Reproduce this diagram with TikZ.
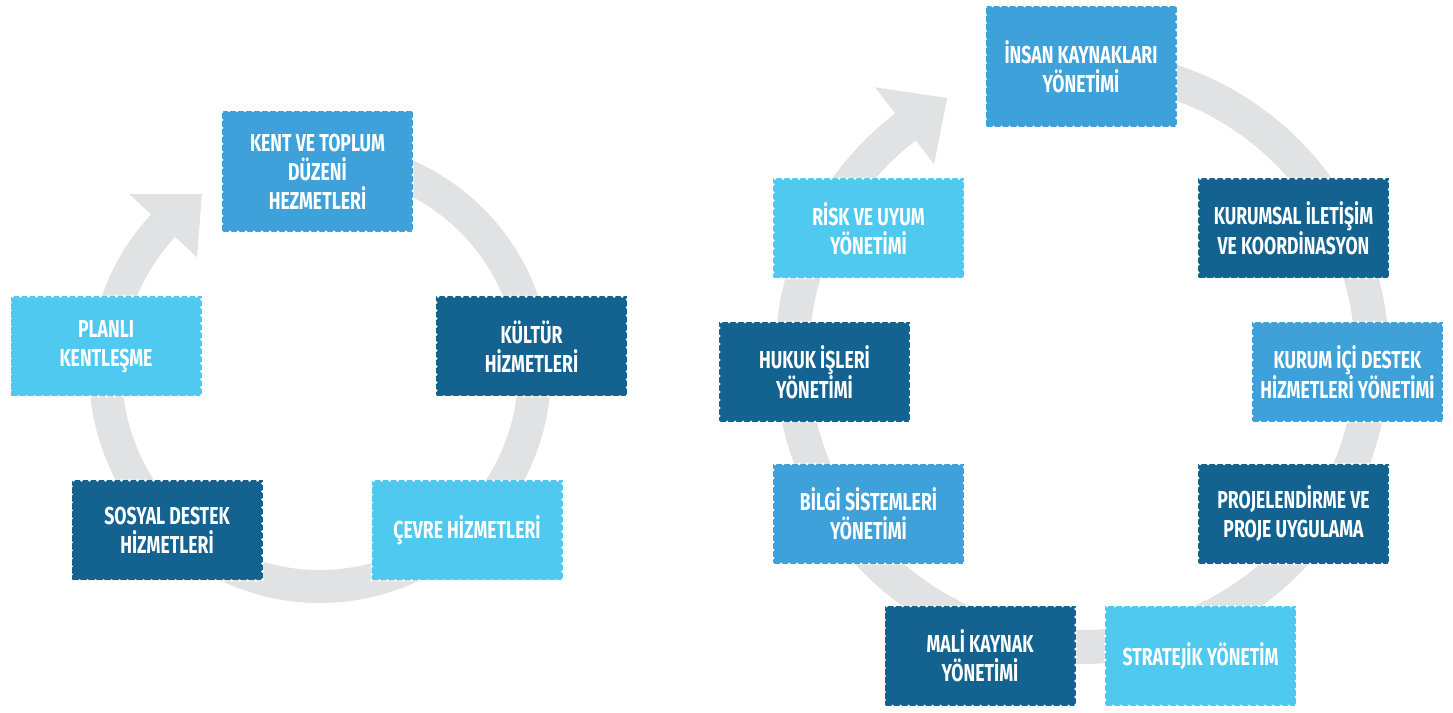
\documentclass[tikz,border=0pt]{standalone}
\usepackage{fontspec}
\newfontfamily\boxfont{Fira Sans}[FakeStretch=0.72]
\usepackage{tikz}
\definecolor{midblue}{HTML}{3FA1DA}
\definecolor{darkblue}{HTML}{14628F}
\definecolor{lightblue}{HTML}{4FC9F0}
\definecolor{ringgray}{HTML}{E1E2E4}
\tikzset{
  unit/.style={minimum width=191pt, minimum height=100pt, inner sep=0pt, text=white, align=center,
    font=\boxfont\bfseries\fontsize{24.5}{29}\selectfont,
    draw=white, line width=3pt, dash pattern=on 0pt off 8pt, line cap=round},
  midbox/.style={unit, fill=midblue},
  darkbox/.style={unit, fill=darkblue},
  lightbox/.style={unit, fill=lightblue},
  tallbox/.style={minimum height=121pt}
}
\begin{document}
\begin{tikzpicture}[x=1pt,y=1pt]
            \useasboundingbox (0,0) rectangle (1453,712);
            \coordinate (lc) at (320,340);
            \coordinate (rc) at (1082,355);
            \draw[ringgray, line width=33pt] (lc) ++(100:214.5) arc[start angle=100, end angle=-223, radius=214.5];
            \fill[ringgray, shift={(lc)}] (137:168) -- (137:261) -- (123.6:213.5) -- cycle;
            \draw[ringgray, line width=34pt] (rc) ++(90:290) arc[start angle=90, end angle=-232.5, radius=290];
            \fill[ringgray, shift={(rc)}] (127.5:243) -- (127.5:340) -- (117.5:292) -- cycle;
            \node[midbox, tallbox] at (317.5,540.5) (kent) {KENT VE TOPLUM\\DÜZENİ\\HEZMETLERİ};
            \node[darkbox] at (531.5,365.5) (kultur) {KÜLTÜR\\HİZMETLERİ};
            \node[lightbox] at (467,181.5) (cevre) {ÇEVRE HİZMETLERİ};
            \node[darkbox] at (167,181.5) (sosyal) {SOSYAL DESTEK\\HİZMETLERİ};
            \node[lightbox] at (106,365.5) (planli) {PLANLI\\KENTLEŞME};
            \node[midbox, tallbox] at (1081,645.5) (insan) {İNSAN KAYNAKLARI\\YÖNETİMİ};
            \node[darkbox] at (1293.5,483.5) (kurumsal) {KURUMSAL İLETİŞİM\\VE KOORDİNASYON};
            \node[midbox] at (1347.5,340) (destek) {KURUM İÇİ DESTEK\\HİZMETLERİ YÖNETİMİ};
            \node[darkbox] at (1293.5,198) (proje) {PROJELENDİRME VE\\PROJE UYGULAMA};
            \node[lightbox] at (1200.5,56) (strateji) {STRATEJİK YÖNETİM};
            \node[darkbox] at (980,56) (mali) {MALİ KAYNAK\\YÖNETİMİ};
            \node[midbox] at (868.5,198) (bilgi) {BİLGİ SİSTEMLERİ\\YÖNETİMİ};
            \node[darkbox] at (814.5,340) (hukuk) {HUKUK İŞLERİ\\YÖNETİMİ};
            \node[lightbox] at (868.5,483.5) (risk) {RİSK VE UYUM\\YÖNETİMİ};
        \end{tikzpicture}
\end{document}
